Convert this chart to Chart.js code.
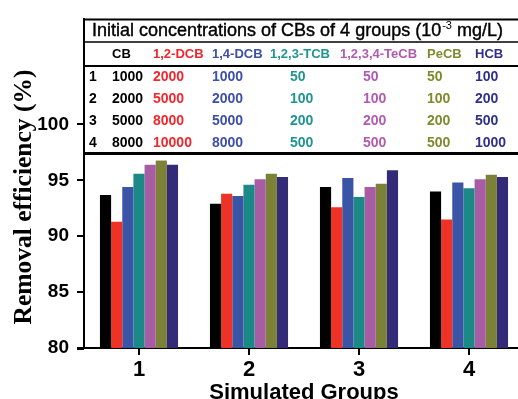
<!DOCTYPE html>
<html>
<head>
<meta charset="utf-8">
<script src="https://cdn.jsdelivr.net/npm/chart.js@4.4.1/dist/chart.umd.min.js"></script>
<style>
    html, body {
        margin: 0;
        padding: 0;
        background: #ffffff;
        overflow: hidden;
    }
    #wrap {
        width: 518px;
        height: 399px;
        overflow: hidden;
    }
</style>
</head>
<body>
<div id="wrap">
    <canvas id="chart" width="530" height="399"></canvas>
</div>
<script>
const groups = ["1", "2", "3", "4"];
const compounds = ["CB", "1,2-DCB", "1,4-DCB", "1,2,3-TCB", "1,2,3,4-TeCB", "PeCB", "HCB"];

// removal efficiency (%) per compound, groups 1-4
const effCB = [93.7, 92.9, 94.4, 94.0];
const effDCB12 = [91.3, 93.8, 92.6, 91.5];
const effDCB14 = [94.4, 93.6, 95.2, 94.8];
const effTCB = [95.6, 94.6, 93.5, 94.3];
const effTeCB = [96.4, 95.1, 94.4, 95.1];
const effPeCB = [96.8, 95.6, 94.7, 95.5];
const effHCB = [96.4, 95.3, 95.9, 95.3];

// initial concentrations (10^-3 mg/L), groups 1-4
const concCB = [1000, 2000, 5000, 8000];
const concDCB12 = [2000, 5000, 8000, 10000];
const concDCB14 = [1000, 2000, 5000, 8000];
const concTCB = [50, 100, 200, 500];
const concTeCB = [50, 100, 200, 500];
const concPeCB = [50, 100, 200, 500];
const concHCB = [100, 200, 500, 1000];

const yTicks = [80, 85, 90, 95, 100];

const effSeries = [effCB, effDCB12, effDCB14, effTCB, effTeCB, effPeCB, effHCB];
const concSeries = [concCB, concDCB12, concDCB14, concTCB, concTeCB, concPeCB, concHCB];

const barColors = ["#000000", "#ee3226", "#3a55a6", "#1b8985", "#a75ca3", "#7b8136", "#342b78"];
const textColors = ["#000000", "#f0282d", "#3d4fa8", "#1f9590", "#b05bb0", "#7f8a2e", "#30308a"];

const sansFamily = "'Liberation Sans', Arial, sans-serif";

const tablePlugin = {
    id: "concTable",
    afterDraw(chart) {
        const ctx = chart.ctx;
        const area = chart.chartArea;
        const left = area.left;
        const top = area.top;
        const right = chart.width;

        const headerX = [112, 153, 212, 270, 340, 427, 475];
        const valueX = [112, 153, 212, 290, 363, 427, 475];
        const rowY = [77, 99, 121, 143];

        ctx.save();
        ctx.fillStyle = "#ffffff";
        ctx.fillRect(left + 1, top, right - left, 141);

        ctx.strokeStyle = "#000000";
        ctx.lineWidth = 2;
        ctx.beginPath();
        ctx.moveTo(left - 1, top);
        ctx.lineTo(right, top);
        ctx.stroke();

        // x axis line runs a little past the y axis
        ctx.beginPath();
        ctx.moveTo(left - 7, area.bottom + 1);
        ctx.lineTo(left, area.bottom + 1);
        ctx.stroke();

        ctx.lineWidth = 1.5;
        ctx.beginPath();
        ctx.moveTo(left, 42);
        ctx.lineTo(right, 42);
        ctx.stroke();

        ctx.lineWidth = 2;
        ctx.beginPath();
        ctx.moveTo(left, 66);
        ctx.lineTo(right, 66);
        ctx.stroke();

        ctx.lineWidth = 3;
        ctx.beginPath();
        ctx.moveTo(left, 153.5);
        ctx.lineTo(right, 153.5);
        ctx.stroke();

        // title line with superscript
        ctx.fillStyle = "#000000";
        ctx.strokeStyle = "#000000";
        ctx.lineWidth = 0.4;
        ctx.textBaseline = "alphabetic";
        ctx.textAlign = "left";
        ctx.font = "18px " + sansFamily;
        let x = 92;
        const base = 36;
        const part1 = "Initial concentrations of CBs of 4 groups (10";
        ctx.fillText(part1, x, base);
        ctx.strokeText(part1, x, base);
        x += ctx.measureText(part1).width;
        ctx.font = "11px " + sansFamily;
        ctx.fillText("-3", x + 1, base - 7);
        x += ctx.measureText("-3").width + 1;
        ctx.font = "18px " + sansFamily;
        ctx.fillText(" mg/L)", x, base);
        ctx.strokeText(" mg/L)", x, base);

        // header row
        ctx.textBaseline = "middle";
        ctx.font = "bold 13px " + sansFamily;
        compounds.forEach((name, i) => {
            ctx.fillStyle = textColors[i];
            ctx.fillText(name, headerX[i], 54);
        });

        // value rows
        ctx.font = "bold 14px " + sansFamily;
        groups.forEach((g, r) => {
            ctx.fillStyle = "#000000";
            ctx.fillText(g, 89, rowY[r]);
            concSeries.forEach((vals, i) => {
                ctx.fillStyle = textColors[i];
                ctx.fillText(String(vals[r]), valueX[i], rowY[r]);
            });
        });

        // y axis title
        ctx.fillStyle = "#000000";
        ctx.font = "bold 25.5px 'Liberation Serif', 'Times New Roman', serif";
        ctx.translate(24, 197);
        ctx.rotate(-Math.PI / 2);
        ctx.textAlign = "center";
        ctx.textBaseline = "middle";
        ctx.fillText("Removal efficiency (%)", 0, 0);
        ctx.restore();
    }
};

new Chart(document.getElementById("chart"), {
    type: "bar",
    data: {
        labels: groups,
        datasets: compounds.map((name, i) => ({
            label: name,
            data: effSeries[i],
            backgroundColor: barColors[i],
            borderWidth: 0,
            categoryPercentage: 0.71,
            barPercentage: 1.0
        }))
    },
    options: {
        responsive: false,
        devicePixelRatio: 1,
        animation: false,
        layout: {
            padding: { top: 13, right: 6, left: 0, bottom: 0 }
        },
        plugins: {
            legend: { display: false },
            tooltip: { enabled: false }
        },
        scales: {
            x: {
                afterFit(scale) {
                    scale.height = 51;
                },
                grid: {
                    offset: false,
                    drawOnChartArea: false,
                    tickLength: 7,
                    lineWidth: 2,
                    color: "#000000"
                },
                border: { color: "#000000", width: 2 },
                ticks: {
                    color: "#000000",
                    padding: 2,
                    font: { family: sansFamily, size: 22, weight: "bold" }
                },
                title: {
                    display: true,
                    text: "Simulated Groups",
                    color: "#000000",
                    padding: 0,
                    font: { family: sansFamily, size: 22, weight: "bold", lineHeight: 0.55 }
                }
            },
            y: {
                min: 80,
                max: 109.4,
                afterFit(scale) {
                    scale.width = 84;
                },
                afterBuildTicks(scale) {
                    scale.ticks = yTicks.map((v) => ({ value: v }));
                },
                grid: {
                    drawOnChartArea: false,
                    tickLength: 7,
                    lineWidth: 2,
                    color: "#000000"
                },
                border: { color: "#000000", width: 2 },
                ticks: {
                    color: "#000000",
                    padding: 8,
                    font: { family: sansFamily, size: 19, weight: "bold" }
                }
            }
        }
    },
    plugins: [tablePlugin]
});
</script>
</body>
</html>
